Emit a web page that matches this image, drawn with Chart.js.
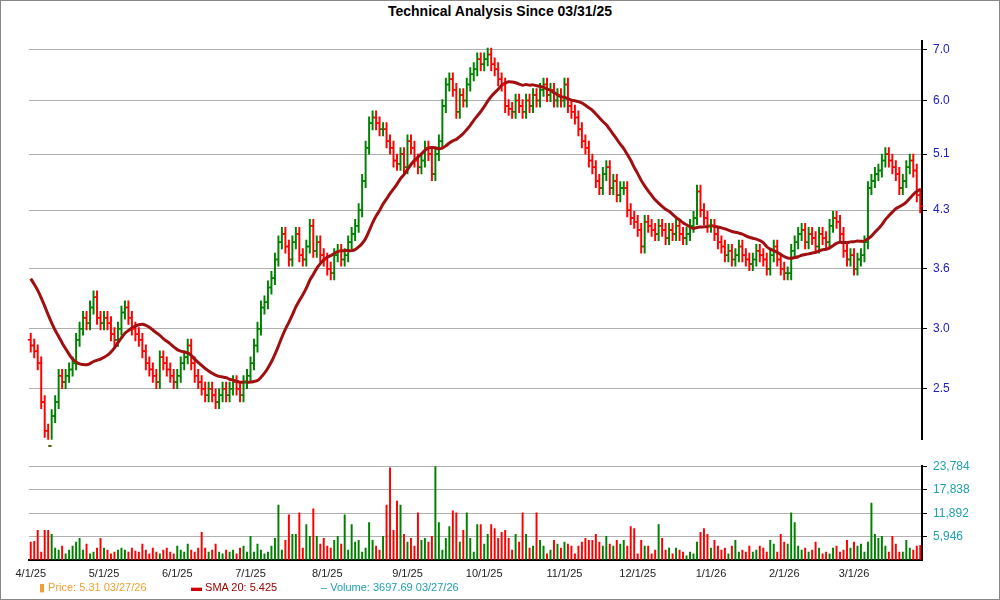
<!DOCTYPE html>
<html><head><meta charset="utf-8">
<script src="https://cdn.jsdelivr.net/npm/chart.js@4"></script>
<style>
body{margin:0;background:#fff;font-family:Arial,"Liberation Sans",sans-serif}
#wrap{position:relative;width:998px;height:598px;border:1px solid #888;overflow:hidden}
#title{position:absolute;top:2px;left:0;width:100%;text-align:center;font-weight:bold;font-size:14px}
#c1{position:absolute;left:0;top:0}
#c2{position:absolute;left:0;top:452px}
#legend{position:absolute;top:580px;left:38px;font-size:11px;white-space:nowrap}
#legend span{position:absolute}
</style></head><body>
<div id="wrap">
<div id="title">Technical Analysis Since 03/31/25</div>
<canvas id="c2" width="998" height="146"></canvas>
<canvas id="c1" width="998" height="452"></canvas>
<div id="legend">
<span style="left:0;color:#f0a030">▮ Price: 5.31  03/27/26</span>
<span style="left:152px;color:#a00000"><b style="color:#d00000">▬</b> SMA 20: 5.425</span>
<span style="left:282px;color:#20a0b0">‒ Volume: 3697.69  03/27/26</span>
</div>
</div>
<script>
const months = ["4/1/25","5/1/25","6/1/25","7/1/25","8/1/25","9/1/25","10/1/25","11/1/25","12/1/25","1/1/26","2/1/26","3/1/26"];
const closeApr=[2.85,2.8,2.7,2.4,2.2,2.1,2.3,2.4,2.6,2.55,2.6,2.65,2.7,2.9,3.0,3.1,3.05,3.2,3.3,3.1,3.05];
const closeMay=[3.1,3.05,2.95,2.9,3.0,3.15,3.2,3.1,3.0,2.95,2.9,2.8,2.7,2.65,2.6,2.55,2.75,2.7,2.65,2.6,2.55];
const closeJun=[2.6,2.7,2.75,2.85,2.7,2.6,2.55,2.5,2.45,2.5,2.45,2.4,2.45,2.5,2.45,2.5,2.55,2.5,2.45,2.55,2.6];
const closeJul=[2.7,2.85,3.0,3.2,3.25,3.4,3.5,3.7,3.9,4.0,3.85,3.7,3.9,4.0,3.75,3.7,3.85,4.1,3.8,3.9,3.75,3.7];
const closeAug=[3.6,3.55,3.75,3.8,3.7,3.75,3.9,4.0,4.1,4.3,4.7,5.2,5.6,5.7,5.6,5.5,5.5,5.3,5.2,5.0,4.95,5.1,4.9];
const closeSep=[5.3,5.2,5.0,4.9,5.0,5.2,5.1,4.8,5.1,5.3,5.9,6.3,6.4,6.2,5.8,6.1,6.0,6.3,6.5,6.6,6.8,6.7];
const closeOct=[6.8,6.9,6.7,6.6,6.4,6.3,5.9,5.85,5.8,6.0,5.9,5.8,6.0,5.9,6.1,6.0,6.2,6.3,6.1,6.2,6.0,6.1,6.0];
const closeNov=[6.3,5.9,5.8,5.7,5.5,5.3,5.2,5.0,4.9,4.7,4.6,4.8,4.9,4.6,4.7,4.5,4.6,4.6,4.3,4.2,4.15];
const closeDec=[4.05,3.85,4.15,4.1,4.05,4.0,4.1,4.05,3.95,4.05,4.0,4.1,4.0,3.95,4.0,4.1,4.2,4.55,4.3,4.2,4.1];
const closeJan=[4.1,4.0,3.9,3.85,3.75,3.8,3.7,3.75,3.85,3.75,3.7,3.65,3.7,3.8,3.75,3.7,3.6,3.75,3.85,3.7,3.6];
const closeFeb=[3.55,3.55,3.8,3.9,4.0,4.05,3.9,4.0,3.95,3.85,4.0,3.95,3.9,4.1,4.2,4.15,4.0,3.8,3.7,3.75];
const closeMar=[3.6,3.7,3.75,3.9,4.6,4.7,4.8,4.85,5.0,5.1,5.0,4.9,4.8,4.6,4.7,4.9,5.0,4.85,4.5,4.35];
const priorCloses=[4.0,3.95,3.9,3.85,3.8,3.8,3.75,3.7,3.7,3.6,3.6,3.5,3.4,3.3,3.2,3.1,3.0,2.95,2.9];
const volApr=[4500,4700,7500,2000,7500,7500,6500,3000,2500,3500,1500,2500,3500,4500,5500,2500,4000,1500,2000,3000,5500];
const volMay=[3000,2500,1500,2000,2500,3000,2500,2000,3000,2200,2000,4000,2500,1500,3000,2000,1500,2500,3000,2000,1500];
const volJun=[3500,2500,2000,4000,2500,2000,3000,7000,3000,2000,2500,4000,2000,1500,2500,2000,2500,1500,3000,3500,2000];
const volJul=[6000,2000,4000,2500,1500,2000,3500,5500,14000,2500,5000,11500,6500,6500,12000,3000,9000,6000,13000,6000,4000,5500];
const volAug=[3500,3000,5000,6000,4000,11500,2500,9000,4500,5000,2000,3000,9500,5000,3500,2500,6000,14000,23500,7500,15000,14000,6500];
const volSep=[4500,5500,3500,12000,5000,5500,4500,6000,24000,9500,2500,5500,8500,12500,12000,4500,7500,12000,5500,2000,9000,9000];
const volOct=[4000,6500,9000,8000,5500,7000,7500,5500,2500,6500,4500,12000,6500,3000,3500,12000,5000,3500,1500,2500,5000,4000,3000];
const volNov=[4500,4000,3500,1500,3500,4500,5500,5000,5000,6500,4500,3500,6000,4000,3500,5000,4000,5000,3500,8500,8000];
const volDec=[1500,5000,3500,3500,1500,2500,9000,5500,2500,3000,1500,3000,2500,2000,1000,2000,1500,4500,7000,8000,6500];
const volJan=[3000,5000,3500,2500,3000,1500,3500,5000,2000,2500,2000,3500,2000,2500,3500,3000,2000,5000,4000,2000,6500];
const volFeb=[4500,4000,12000,9500,3500,2500,3000,2000,2500,4500,3000,1500,2000,1500,3000,3500,2000,2500,5000,3000];
const volMar=[4500,3500,4000,2000,4500,14500,6500,5500,6000,3500,2000,6000,4000,2000,2000,5000,3000,2500,3500,3700];
const priceTicks=[2.5,3.0,3.6,4.3,5.1,6.0,7.0];
const volTicks=[5946,11892,17838,23784];

const closeM=[closeApr,closeMay,closeJun,closeJul,closeAug,closeSep,closeOct,closeNov,closeDec,closeJan,closeFeb,closeMar];
const volM=[volApr,volMay,volJun,volJul,volAug,volSep,volOct,volNov,volDec,volJan,volFeb,volMar];
const labels=[],closes=[],vols=[];
closeM.forEach((arr,m)=>arr.forEach((c,i)=>{labels.push(i===0?months[m]:"");closes.push(c);vols.push(volM[m][i]??0);}));
const opens=closes.map((c,i)=>i===0?2.9:closes[i-1]);
const up=closes.map((c,i)=>c>=opens[i]);
const hl=closes.map((c,i)=>[Math.min(c,opens[i])*0.98,Math.max(c,opens[i])*1.02]);
const all=priorCloses.concat(closes);
const sma=closes.map((c,i)=>{let s=0;for(let k=0;k<20;k++)s+=all[i+19-k];return s/20;});
const GREEN='#008000',RED='#ff0000';
const col=up.map(u=>u?GREEN:RED);

const fitY=(s)=>{s.width=77;};
const grid={color:'#b0b0b0',borderDash:[3,3],drawTicks:true,tickLength:5,tickColor:'#000'};
const ohlcPlugin={id:'ohlc',afterDatasetsDraw(ch){
 const x=ch.scales.x,y=ch.scales.y,ctx=ch.ctx;ctx.save();ctx.lineWidth=1.5;
 closes.forEach((c,i)=>{const px=x.getPixelForValue(i);ctx.strokeStyle=col[i];ctx.beginPath();
  ctx.moveTo(px-3,y.getPixelForValue(opens[i]));ctx.lineTo(px,y.getPixelForValue(opens[i]));
  ctx.moveTo(px,y.getPixelForValue(c));ctx.lineTo(px+3,y.getPixelForValue(c));ctx.stroke();});
 ctx.restore();}};

new Chart(document.getElementById('c1'),{
 data:{labels,datasets:[
  {type:'bar',data:hl,backgroundColor:col,barThickness:1.3,order:2},
  {type:'line',data:sma,borderColor:'#a01010',borderWidth:3,pointRadius:0,tension:0.3,order:1}]},
 options:{responsive:false,animation:false,layout:{padding:{left:28,top:40,right:0,bottom:0}},
  plugins:{legend:{display:false},tooltip:{enabled:false}},
  scales:{
   x:{display:false},
   y:{type:'logarithmic',position:'right',min:2.14,max:7.19,afterFit:fitY,
      afterBuildTicks:(s)=>{s.ticks=priceTicks.map(v=>({value:v}));},
      ticks:{color:'#2020c0',font:{size:12},padding:6,callback:v=>Number(v).toFixed(1)},
      grid:grid,border:{color:'#000',width:2}}}},
 plugins:[ohlcPlugin]});

new Chart(document.getElementById('c2'),{
 data:{labels,datasets:[{type:'bar',data:vols,backgroundColor:col,barThickness:1.3}]},
 options:{responsive:false,animation:false,layout:{padding:{left:28,top:2,right:0,bottom:18}},
  plugins:{legend:{display:false},tooltip:{enabled:false}},
  scales:{
   x:{grid:{display:false,drawTicks:true},border:{color:'#000',width:2},
      ticks:{autoSkip:false,maxRotation:0,padding:0,color:'#222',font:{size:11},callback:(v,i)=>labels[i]}},
   y:{position:'right',min:0,max:23900,afterFit:fitY,
      afterBuildTicks:(s)=>{s.ticks=volTicks.map(v=>({value:v}));},
      ticks:{color:'#20a0b0',font:{size:12},padding:6,callback:v=>v.toLocaleString('en-US')},
      grid:grid,border:{color:'#000',width:2}}}}});
</script>
</body></html>
